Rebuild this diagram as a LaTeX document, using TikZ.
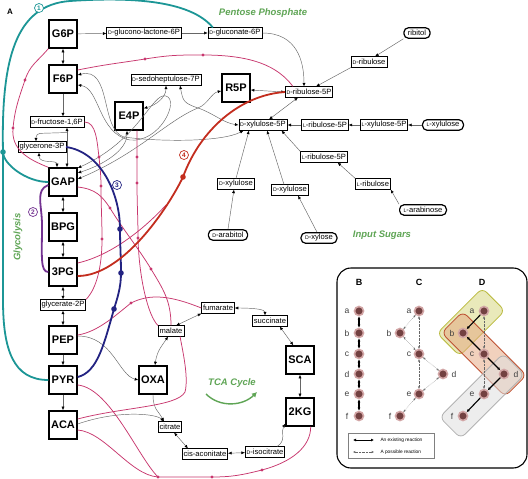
\documentclass[tikz,border=0pt]{standalone}
\usepackage{fontspec}
\setmainfont{Liberation Sans}
\usetikzlibrary{arrows.meta,calc}
\definecolor{tealc}{RGB}{28,150,150}
\definecolor{pinkc}{RGB}{200,55,110}
\definecolor{navyc}{RGB}{35,35,130}
\definecolor{purpc}{RGB}{115,50,145}
\definecolor{redc}{RGB}{195,45,30}
\definecolor{grnc}{RGB}{95,165,85}
\definecolor{dotc}{RGB}{115,65,65}
\definecolor{haloc}{RGB}{210,165,165}
\newcommand{\sD}{{\fontsize{5.2}{5}\selectfont D}}
\newcommand{\sL}{{\fontsize{5.2}{5}\selectfont L}}
\begin{document}
\begin{tikzpicture}[x=1pt,y=-1pt,
  >={Latex[length=3.6pt,width=3pt,color=black]},
  sm/.style={draw, line width=0.55pt, font=\fontsize{7.6}{8}\selectfont, inner xsep=1.4pt, inner ysep=1pt, minimum height=10.5pt, fill=white},
  big/.style={draw, line width=1.4pt, font=\fontsize{11}{12}\selectfont\bfseries, minimum width=28pt, minimum height=28pt, inner sep=0pt, fill=white},
  src/.style={draw, line width=1.2pt, rounded corners=4.5pt, font=\fontsize{7.6}{8}\selectfont, inner xsep=4pt, inner ysep=1pt, minimum height=10.5pt, fill=white},
  gl/.style={black!60, line width=0.45pt},
  ga/.style={gl, ->},
  gab/.style={gl, <->},
  pk/.style={pinkc, line width=0.75pt},
  pd/.style={circle, fill=pinkc, inner sep=0pt, minimum size=3.4pt},
  thk/.style={line width=1.8pt},
  bigdot/.style={circle, inner sep=0pt, minimum size=5.6pt},
  num/.style={circle, draw, fill=white, line width=0.7pt, inner sep=0.3pt, minimum size=9pt, font=\fontsize{6.5}{7}\selectfont\bfseries},
  ttl/.style={text=grnc, font=\fontsize{9.5}{10}\selectfont\bfseries\itshape},
  bd/.style={circle, fill=dotc, draw=haloc, line width=1.6pt, inner sep=0pt, minimum size=9pt},
  lab/.style={font=\fontsize{8.5}{9}\selectfont, text=black!75},
  ex/.style={line width=1.1pt, {Latex[length=3pt,width=3pt]}-{Latex[length=3pt,width=3pt]}},
  ex1/.style={line width=1.1pt, -{Latex[length=3pt,width=3pt]}},
  po/.style={black!60, line width=0.4pt, densely dotted, {Stealth[length=2.6pt,width=2.2pt]}-{Stealth[length=2.6pt,width=2.2pt]}}
]
\useasboundingbox (0,0) rectangle (528,479);
\fill[white] (0,0) rectangle (528,479);

% ---------- main nodes ----------
\node[big] (G6P) at (63,34) {G6P};
\node[big] (F6P) at (63,79) {F6P};
\node[big] (E4P) at (129,116) {E4P};
\node[big] (R5P) at (236,88) {R5P};
\node[big] (GAP) at (63,182) {GAP};
\node[big] (BPG) at (63,227) {BPG};
\node[big] (PG3) at (63,272) {3PG};
\node[big] (PEP) at (63,340) {PEP};
\node[big] (PYR) at (63,380) {PYR};
\node[big] (ACA) at (63,425) {ACA};
\node[big] (OXA) at (153,380) {OXA};
\node[big] (SCA) at (300,360) {SCA};
\node[big] (KG) at (300,412) {2KG};

\node[sm] (GL6P) at (144,33) {\sD-glucono-lactone-6P};
\node[sm] (GN6P) at (235,33) {\sD-gluconate-6P};
\node[sm] (RIBU) at (369,62) {\sD-ribulose};
\node[sm] (S7P) at (166,80) {\sD-sedoheptulose-7P};
\node[sm] (RU5P) at (309,92) {\sD-ribulose-5P};
\node[sm] (F16P) at (57,122) {\sD-fructose-1,6P};
\node[sm] (X5P) at (263,125) {\sD-xylulose-5P};
\node[sm] (LRU5P) at (325,125) {\sL-ribulose-5P};
\node[sm] (LXU5P) at (384,125) {\sL-xylulose-5P};
\node[sm] (DHAP) at (42,147) {glycerone-3P};
\node[sm] (LRU5Pb) at (324,157) {\sL-ribulose-5P};
\node[sm] (DXU1) at (236,184) {\sD-xylulose};
\node[sm] (DXU2) at (290,190) {\sD-xylulose};
\node[sm] (LRIB) at (373,184) {\sL-ribulose};
\node[sm] (G2P) at (63,305) {glycerate-2P};
\node[sm] (MAL) at (171,331) {malate};
\node[sm] (FUM) at (218,308) {fumarate};
\node[sm] (SUC) at (270,321) {succinate};
\node[sm] (CIT) at (170,427) {citrate};
\node[sm] (CIS) at (205,454) {cis-aconitate};
\node[sm] (ISO) at (265,452) {\sD-isocitrate};

\node[src] (RIBITOL) at (417,33) {ribitol};
\node[src] (LXU) at (443,125) {\sL-xylulose};
\node[src] (LARA) at (423,210) {\sL-arabinose};
\node[src] (DARAB) at (228,235) {\sD-arabitol};
\node[src] (DXYL) at (319,238) {\sD-xylose};

% ---------- gray reactions ----------
\draw[ga] (G6P) -- (GL6P);
\draw[ga] (GL6P) -- (GN6P);
\draw[ga] (GN6P.east) .. controls +(35,0) and +(0,-25) .. ($(RU5P.north)+(-5,0)$);
\draw[ga] (RIBU.south west) -- ($(RU5P.north)+(7,0)$);
\draw[ga] (RIBITOL.south west) -- ($(RIBU.north)+(6,0)$);
\draw[gab] ($(R5P.east)+(0,2)$) -- (RU5P.west);
\draw[gab] ($(RU5P.south)+(-11,0)$) -- ($(X5P.north)+(6,0)$);
\draw[ga] (LRU5P) -- (X5P);
\draw[ga] (LXU5P) -- (LRU5P);
\draw[ga] (LXU) -- (LXU5P);
\draw[ga] (LRU5Pb.north west) -- ($(X5P.south east)+(-6,0)$);
\draw[ga] (LRIB.north west) -- ($(LRU5Pb.south east)+(-10,0)$);
\draw[ga] (LARA.north west) -- (LRIB.south east);
\draw[ga] (DARAB.north) -- ($(DXU1.south)+(-2,0)$);
\draw[ga] ($(DXYL.north)+(-2,0)$) -- ($(DXU2.south)+(8,0)$);
\draw[ga] (DXU1.north) -- ($(X5P.south)+(-14,0)$);
\draw[ga] ($(DXU2.north)+(-6,0)$) -- ($(X5P.south)+(4,0)$);

\draw[gab] (G6P) -- (F6P);
\draw[ga] (F6P.south) -- (F6P.south |- F16P.north);
\coordinate (f16b) at ($(F16P.south)+(10,0)$);
\draw[gab] (f16b) -- (f16b |- GAP.north);
\draw[ga, rounded corners=4pt] ($(f16b)+(0,5)$) -- ($(DHAP.north)+(-6,-8)$) -- ($(DHAP.north)+(-6,0)$);
\draw[gab] ($(DHAP.south)+(-3,0)$) .. controls +(0,12) and +(0,-8) .. ($(GAP.north)+(-6,0)$);
\draw[gab] (GAP) -- (BPG);
\draw[gab] (BPG) -- (PG3);
\draw[gab] (PG3) -- (G2P);
\draw[gab] (G2P) -- (PEP);
\draw[ga] (PEP) -- (PYR);
\draw[ga] (PYR) -- (ACA);

% pentose tangle
\draw[gab] ($(F6P.east)+(0,-4)$) .. controls (112,66) and (100,130) .. (124,137) .. controls (160,142) and (222,142) .. ($(X5P.south west)+(5,0)$);
\draw[gab] ($(F6P.east)+(0,6)$) .. controls (100,88) and (98,134) .. (130,140) .. controls (160,143) and (180,100) .. (166,96) .. controls (152,92) and (140,140) .. ($(GAP.east)+(0,-14)$);
\draw[gab] ($(GAP.east)+(0,-9)$) .. controls +(25,-8) and +(0,20) .. ($(E4P.south)+(-2,0)$);
\draw[gab] ($(GAP.east)+(0,-3)$) .. controls +(60,-25) and +(-30,12) .. (198,108) .. controls +(10,-4) and +(-10,2) .. ($(R5P.west)+(0,3)$);
\draw[gab] ($(S7P.south)+(14,0)$) .. controls +(3,15) and +(-15,-5) .. (198,108) .. controls +(15,5) and +(-15,-2) .. (X5P.west);
\draw[gab] (S7P.south) .. controls +(0,12) and +(12,-3) .. ($(E4P.north east)+(0,7)$);

% TCA
\draw[ga] ($(PEP.east)+(0,-4)$) .. controls +(35,0) and +(-20,-5) .. (OXA.west);
\draw[gab] ($(OXA.north)+(2,0)$) .. controls +(2,-15) and +(-5,8) .. ($(MAL.south)+(-3,0)$);
\draw[gab] ($(MAL.north east)+(-8,0)$) -- (FUM.south west);
\draw[gab] (FUM.east) .. controls +(20,0) and +(0,-6) .. ($(SUC.north)+(-5,0)$);
\draw[gab] ($(SUC.south east)+(-8,0)$) -- ($(SCA.north west)+(8,0)$);
\draw[gab] (SCA) -- (KG);
\draw[ga] ($(ISO.north east)+(-8,0)$) .. controls +(10,-6) and +(-5,8) .. ($(KG.south west)+(0,-3)$);
\draw[gab] (CIS) -- (ISO);
\draw[gab] ($(CIT.south east)+(-8,0)$) -- ($(CIS.north west)+(6,0)$);
\draw[ga] (OXA.south) .. controls +(0,15) and +(-5,-10) .. ($(CIT.north west)+(6,0)$);
\draw[ga] ($(ACA.east)+(0,-1)$) .. controls +(40,-14) and +(-8,-8) .. ($(CIT.north west)+(6,0)$);

% ---------- pink possible reactions ----------
\draw[pk] (G6P.south west) .. controls +(-12,14) and +(5,-15) .. (25,80) node[pd] (pa1) {} .. controls +(-6,18) and +(2,-20) .. (13,128) node[pd] (pa2) {} .. controls +(-2,22) and +(-20,-8) .. (GAP.north west);
\draw[pk] ($(F6P.east)+(0,-9)$) .. controls +(30,-6) and +(-25,4) .. (145,59) node[pd] (pb1) {} .. controls +(25,-4) and +(-25,0) .. (203,55) node[pd] (pb2) {} .. controls +(50,0) and +(-15,-20) .. ($(RU5P.north west)+(8,0)$);
\draw[pk] (F16P.east) .. controls +(12,0) and +(-2,-15) .. (99,157) node[pd] (pc1) {} .. controls +(1,10) and +(0,-10) .. (101,186) node[pd] (pc2) {} .. controls +(0,20) and +(0,-20) .. (102,239) node[pd] (pc3) {} .. controls +(0,40) and +(5,-5) .. (G2P.north east);
\draw[pk] ($(GAP.east)+(0,5)$) .. controls +(18,2) and +(-8,-12) .. (110,208) node[pd] (pe1) {} .. controls +(12,20) and +(-12,-20) .. (151,269) node[pd] (pe2) {} .. controls +(12,20) and +(0,-25) .. (MAL.north);
\draw[pk] ($(E4P.south)+(8,0)$) -- (137,157) node[pd] (pf1) {} -- (137,183) node[pd] (pf2) {} .. controls +(0,20) and +(0,-20) .. (138,238) node[pd] (pf3) {} .. controls +(1,40) and +(-10,-10) .. (MAL.north west);
\draw[pk] ($(PG3.east)+(0,-9)$) .. controls +(35,-8) and +(-20,22) .. (166,205);
\draw[pk] ($(PEP.east)+(0,-5)$) .. controls +(20,-3) and +(-15,12) .. (131,303) node[pd] (pg1) {} .. controls +(20,-10) and +(-30,-12) .. (FUM.west);
\draw[pk] ($(PYR.east)+(0,5)$) .. controls (110,388) and (138,457) .. (158,477) node[pd] (ph1) {} .. controls +(20,0) and +(-20,0) .. (212,477) node[pd] (ph2) {} .. controls +(20,0) and +(-20,5) .. (262,470) node[pd] (ph3) {} .. controls +(30,-8) and +(0,20) .. ($(KG.south east)+(-4,0)$);
\draw[pk] ($(ACA.east)+(0,5)$) .. controls (105,432) and (130,475) .. (158,477);
\draw[pk] ($(ACA.east)+(0,-6)$) .. controls +(45,-12) and +(-8,15) .. (185,392) .. controls +(4,-15) and +(2,12) .. ($(MAL.south east)+(-4,0)$);

% ---------- highlighted paths ----------
\draw[tealc, thk] (GAP.west) .. controls +(-22,0) and +(0,12) .. (3,152) node[bigdot, fill=tealc] (tdot) {};
\draw[tealc, thk] (PYR.west) .. controls +(-35,0) and +(0,50) .. (3,300) -- (tdot.center);
\draw[tealc, thk] (tdot.center) .. controls (1,60) and (15,5) .. (70,1) .. controls (130,-3) and (190,0) .. ($(GN6P.north west)+(5,0)$);
\draw[purpc, thk] ($(GAP.west)+(0,3)$) .. controls (35,190) and (42,205) .. (42,225) .. controls (42,255) and (40,272) .. (PG3.west);
\draw[navyc, thk] (DHAP.east) .. controls +(35,5) and +(0,-35) .. (120,229) node[bigdot, fill=navyc] (nd1) {} .. controls +(0,15) and +(0,-15) .. (121,273) node[bigdot, fill=navyc] (nd2) {} .. controls +(0,15) and +(3,-10) .. (114,309) node[bigdot, fill=navyc] (nd3) {} .. controls +(-10,35) and +(20,-5) .. ($(PYR.east)+(0,-3)$);
\draw[redc, thk] ($(PG3.east)+(0,4)$) .. controls (123,276) and (168,208) .. (183,177) node[bigdot, fill=redc] (rd1) {} .. controls (200,130) and (240,95) .. (RU5P.west);

\node[num, draw=tealc, text=tealc] (n1) at (39,8) {1};
\node[num, draw=purpc, text=purpc] (n2) at (33,212) {2};
\node[num, draw=navyc, text=navyc] (n3) at (117,185) {3};
\node[num, draw=redc, text=redc] (n4) at (184,155) {4};

% ---------- titles ----------
\node[font=\fontsize{8}{8}\selectfont\bfseries] (lA) at (10,12) {A};
\node[ttl] (tPP) at (263,13) {Pentose Phosphate};
\node[ttl] (tIS) at (382,235) {Input Sugars};
\node[ttl, rotate=90] (tGL) at (18,237) {Glycolysis};
\node[ttl] (tTCA) at (232,383) {TCA Cycle};
\draw[grnc, line width=1.4pt, -{Latex[length=5pt,width=5.5pt]}] (206,394) .. controls (220,408) and (243,406) .. (257,392);

% ---------- panel B C D ----------
\draw[line width=1.1pt, rounded corners=14pt] (337,268) rectangle (527,468);
\node[font=\fontsize{9}{9}\selectfont\bfseries] (hB) at (359,282) {B};
\node[font=\fontsize{9}{9}\selectfont\bfseries] (hC) at (419,282) {C};
\node[font=\fontsize{9}{9}\selectfont\bfseries] (hD) at (482,282) {D};

% D highlight boxes
\node[rotate=45, minimum width=64pt, minimum height=32pt, rounded corners=6pt, draw={rgb,255:red,185;green,185;blue,60}, fill={rgb,255:red,215;green,215;blue,130}, fill opacity=0.55, line width=0.8pt] (hl1) at (471,322) {};
\node[rotate=-45, minimum width=90pt, minimum height=30pt, rounded corners=6pt, draw={rgb,255:red,190;green,80;blue,50}, fill={rgb,255:red,228;green,165;blue,125}, fill opacity=0.5, line width=0.8pt] (hl2) at (484,354) {};
\node[rotate=45, minimum width=90pt, minimum height=30pt, rounded corners=6pt, draw=black!30, fill=black!12, fill opacity=0.55, line width=0.8pt] (hl3) at (482,396) {};

% B
\foreach \n/\y in {a/311,b/333,c/354,d/374,e/394,f/416}{
  \node[bd] (B\n) at (359,\y) {};
  \node[lab] (Bl\n) at (347,\y) {\n};
}
\draw[ex] (Ba) -- (Bb); \draw[ex] (Bb) -- (Bc); \draw[ex] (Bc) -- (Bd);
\draw[ex] (Bd) -- (Be); \draw[ex] (Be) -- (Bf);
% C
\foreach \n/\x/\y/\lx in {a/419/311/409,b/400/333/389,c/419/354/409,d/443/374/454,e/419/394/409,f/400/416/390}{
  \node[bd] (C\n) at (\x,\y) {};
  \node[lab] (Cl\n) at (\lx,\y) {\n};
}
\draw[po] (Ca) -- (Cb); \draw[po] (Cb) -- (Cc); \draw[po] (Ca) -- (Cc);
\draw[po] (Cc) -- (Cd); \draw[po] (Cd) -- (Ce); \draw[po] (Cc) -- (Ce);
\draw[po] (Ce) -- (Cf);
% D
\foreach \n/\x/\y/\lx in {a/484/311/472,b/463/333/452,c/484/354/472,d/504/374/516,e/484/394/472,f/463/416/452}{
  \node[bd] (D\n) at (\x,\y) {};
  \node[lab] (Dl\n) at (\lx,\y) {\n};
}
\draw[po] (Da) -- (Dc); \draw[po] (Dc) -- (De);
\draw[ex1] (Da) -- (Db); \draw[ex1] (Dc) -- (Db); \draw[ex1] (Dc) -- (Dd);
\draw[ex1] (Dd) -- (De); \draw[ex1] (De) -- (Df);

% legend
\draw[black!50, line width=0.5pt] (348,433) rectangle (434,458);
\coordinate (lg1a) at (353,440); \coordinate (lg1b) at (374,440);
\coordinate (lg2a) at (353,452); \coordinate (lg2b) at (374,452);
\draw[ex, line width=0.9pt] (lg1a) -- (lg1b);
\draw[po] (lg2a) -- (lg2b);
\node[anchor=west, font=\fontsize{4.8}{5}\selectfont] (lgt1) at (377,440) {An existing reaction};
\node[anchor=west, font=\fontsize{4.8}{5}\selectfont] (lgt2) at (377,452) {A possible reaction};
\end{tikzpicture}
\end{document}
